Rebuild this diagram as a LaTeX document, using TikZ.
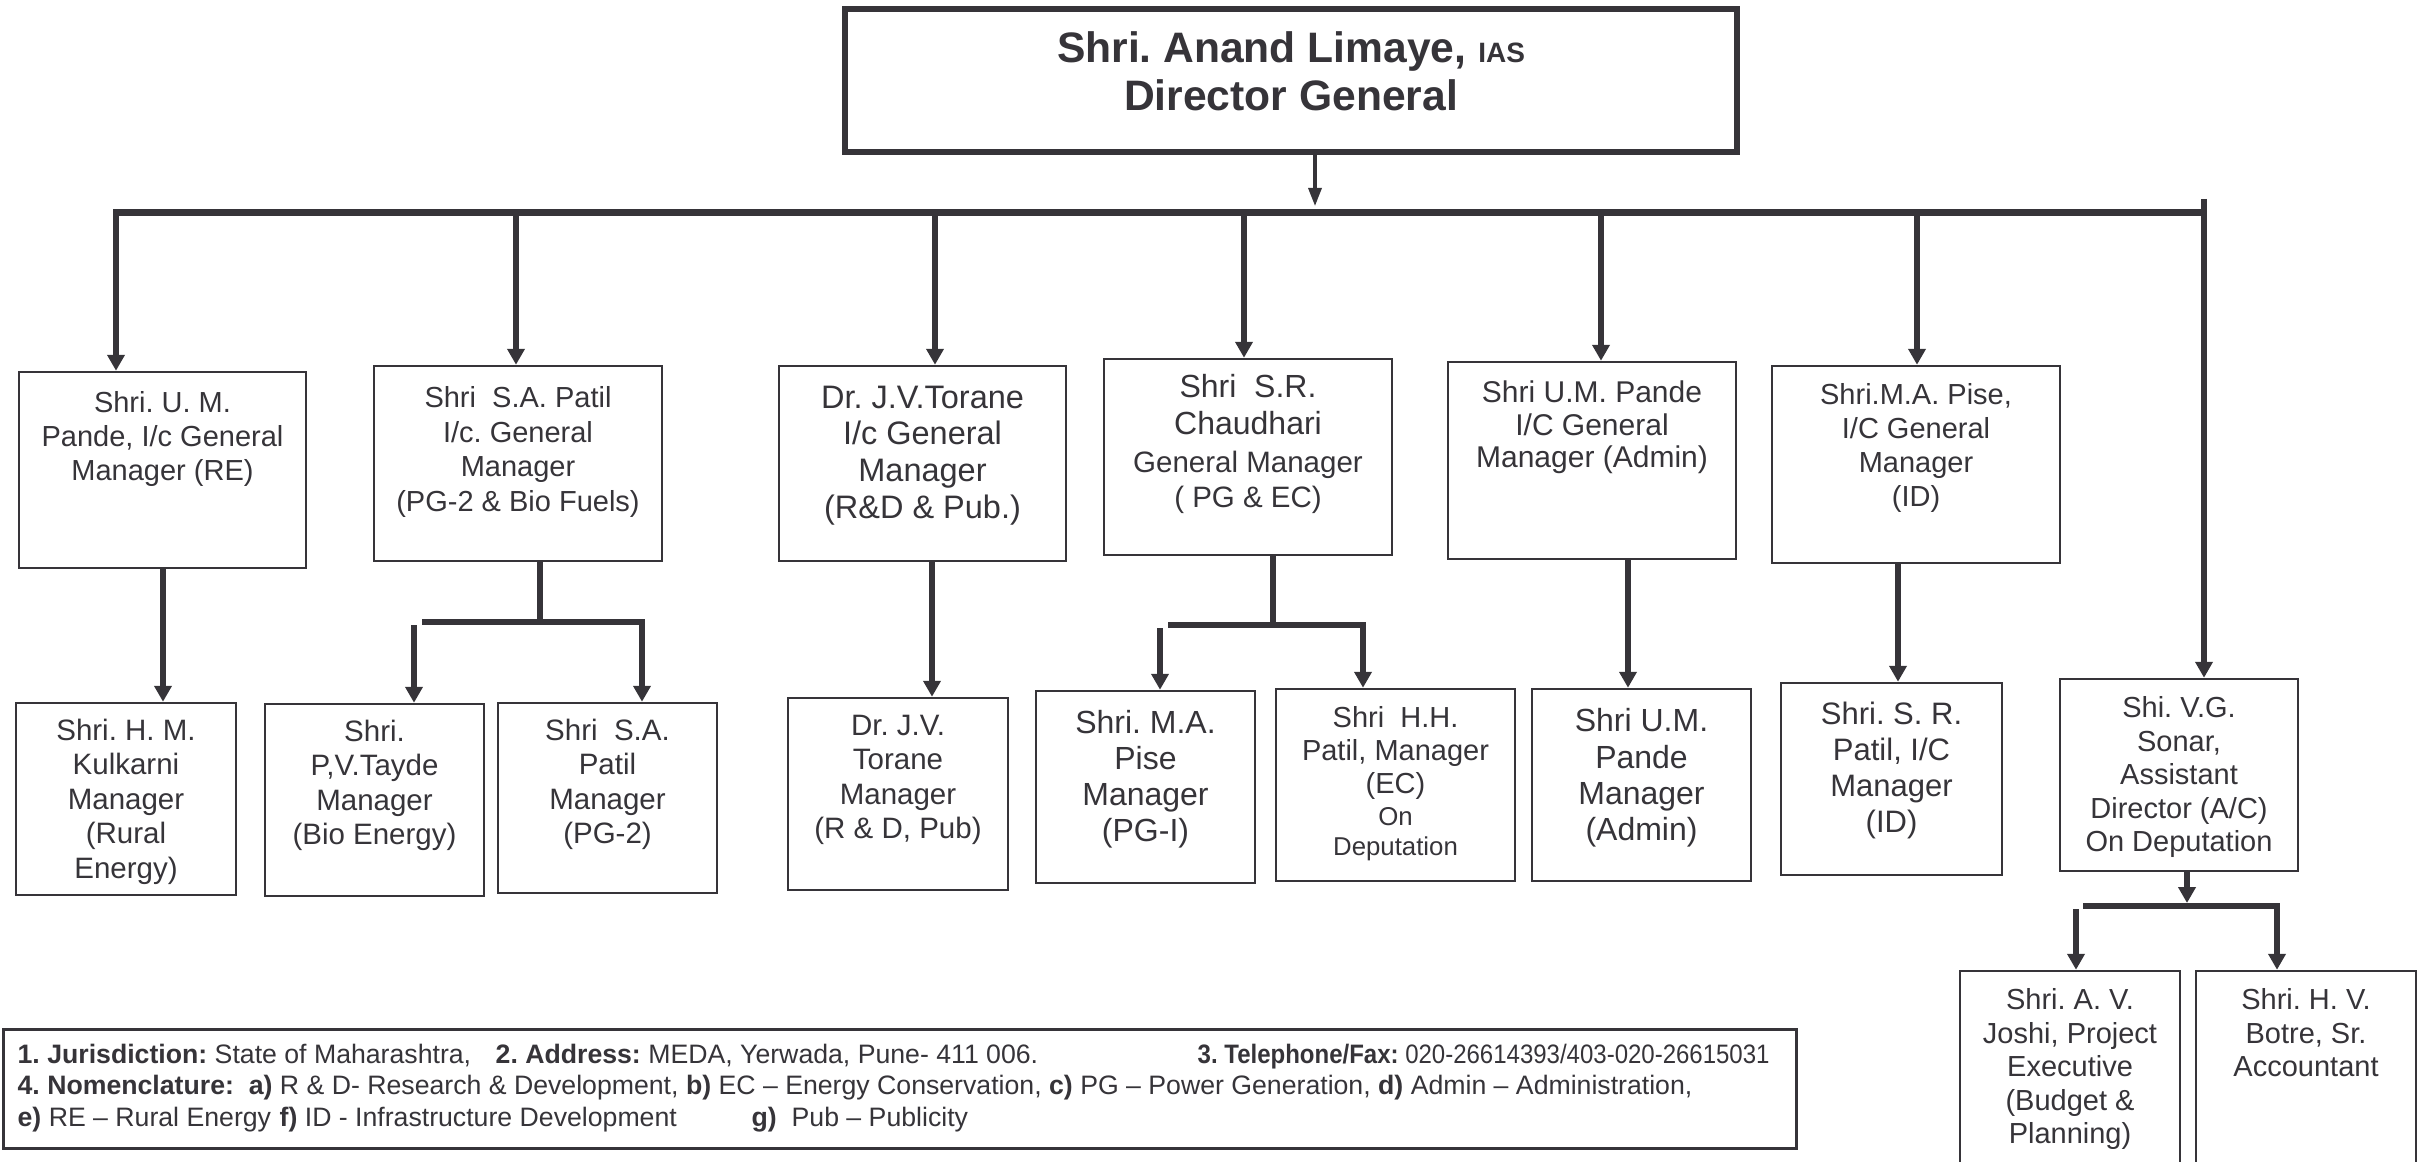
\documentclass[tikz,border=0pt]{standalone}
\usepackage{fontspec}
\setmainfont{Liberation Sans}
\usetikzlibrary{arrows.meta}
\frenchspacing
\definecolor{ink}{RGB}{54,52,57}
\newcommand\fs[2]{\fontsize{#1}{#2}\selectfont}
\newcommand\fl{\rule{0pt}{1em}}
\newcommand\mkbox[6][]{\node[box,#1,minimum width={(#5-#3)*0.3pt},minimum height={(#6-#4)*0.3pt}] (#2) at ({(#3+#5)/2},{(#4+#6)/2}) {};}
\tikzset{
 box/.style={draw=ink, line width=0.75pt, rectangle, inner sep=0pt, fill=white},
 lbl/.style={anchor=north, inner sep=0pt, align=center, text=ink},
 conn/.style={draw=ink, line width=1.8pt},
 bus/.style={draw=ink, line width=2.1pt},
 arr/.style={-{Triangle[length=4.8pt,width=5.1pt]}},
 thinarr/.style={draw=ink, line width=1.0pt, -{Triangle[length=5.4pt,width=3.9pt]}},
 foot/.style={anchor=base west, inner sep=0pt, text=ink, font=\fs{8.0}{9}},
}
\begin{document}
\begin{tikzpicture}[x=0.3pt,y=-0.3pt]
\useasboundingbox (0,0) rectangle (2432,1162);
\clip (0,0) rectangle (2432,1162);
% boxes
\mkbox[line width=1.8pt]{top}{845}{9}{1737}{152}
\mkbox{b1}{19}{372}{306}{568}
\mkbox{b2}{374}{366}{662}{561}
\mkbox{b3}{779}{366}{1066}{561}
\mkbox{b4}{1104}{359}{1392}{555}
\mkbox{b5}{1448}{362}{1736}{559}
\mkbox{b6}{1772}{366}{2060}{563}
\mkbox{k1}{16}{703}{236}{895}
\mkbox{t2}{265}{704}{484}{896}
\mkbox{p2}{498}{703}{717}{893}
\mkbox{r3}{788}{698}{1008}{890}
\mkbox{m4}{1036}{691}{1255}{883}
\mkbox{h4}{1276}{689}{1515}{881}
\mkbox{u5}{1532}{689}{1751}{881}
\mkbox{s6}{1781}{683}{2002}{875}
\mkbox{v7}{2060}{679}{2298}{871}
\mkbox{jo}{1960}{971}{2180}{1180}
\mkbox{bo}{2196}{971}{2416}{1180}
\mkbox[line width=0.9pt]{fn}{3}{1029}{1796}{1148}
% texts
\node[lbl,font=\bfseries\fs{12.78}{14.4}] (ttop) at (1291,19.4) {\fl Shri. Anand Limaye, {\fs{8.4}{8.4}IAS}\\Director General};
\node[lbl,font=\fs{8.7}{10.2}] (tb1) at (162.5,383) {\fl Shri. U. M.\\Pande, I/c General\\Manager (RE)};
\node[lbl,font=\fs{8.7}{10.35}] (tb2) at (518,378) {\fl Shri\ \ S.A. Patil\\I/c. General\\Manager\\(PG-2 \& Bio Fuels)};
\node[lbl,font=\fs{9.75}{11.0}] (tb3) at (922.5,375) {\fl Dr. J.V.Torane\\I/c General\\Manager\\(R\&D \& Pub.)};
\node[lbl,font=\fs{9.6}{11.1}] (tb4a) at (1248,365) {\fl Shri\ \ S.R.\\Chaudhari};
\node[lbl,font=\fs{8.85}{10.7}] (tb4b) at (1248,442) {\fl General Manager\\( PG \& EC)};
\node[lbl,font=\fs{9.0}{9.75}] (tb5) at (1592,372) {\fl Shri U.M. Pande\\I/C General\\Manager (Admin)};
\node[lbl,font=\fs{8.7}{10.2}] (tb6) at (1916,375) {\fl Shri.M.A. Pise,\\I/C General\\Manager\\(ID)};
\node[lbl,font=\fs{8.85}{10.35}] (tk1) at (126,710) {\fl Shri. H. M.\\Kulkarni\\Manager\\(Rural\\Energy)};
\node[lbl,font=\fs{8.85}{10.35}] (tt2) at (374.5,711) {\fl Shri.\\P,V.Tayde\\Manager\\(Bio Energy)};
\node[lbl,font=\fs{8.85}{10.35}] (tp2) at (607.5,710) {\fl Shri\ \ S.A.\\Patil\\Manager\\(PG-2)};
\node[lbl,font=\fs{8.85}{10.35}] (tr3) at (898,705) {\fl Dr. J.V.\\Torane\\Manager\\(R \& D, Pub)};
\node[lbl,font=\fs{9.6}{10.8}] (tm4) at (1145.5,701) {\fl Shri. M.A.\\Pise\\Manager\\(PG-I)};
\node[lbl,font=\fs{8.7}{9.9}] (th4a) at (1395.5,698) {\fl Shri\ \ H.H.\\Patil, Manager\\(EC)};
\node[lbl,font=\fs{7.74}{9.0}] (th4b) at (1395.5,799) {\fl On\\Deputation};
\node[lbl,font=\fs{9.6}{10.9}] (tu5) at (1641.5,699) {\fl Shri U.M.\\Pande\\Manager\\(Admin)};
\node[lbl,font=\fs{9.3}{10.8}] (ts6) at (1891.5,693) {\fl Shri. S. R.\\Patil, I/C\\Manager\\(ID)};
\node[lbl,font=\fs{8.7}{10.05}] (tv7) at (2179,688) {\fl Shi. V.G.\\Sonar,\\Assistant\\Director (A/C)\\On Deputation};
\node[lbl,font=\fs{8.7}{10.05}] (tjo) at (2070,980) {\fl Shri. A. V.\\Joshi, Project\\Executive\\(Budget \&\\Planning)};
\node[lbl,font=\fs{8.7}{10.05}] (tbo) at (2306,980) {\fl Shri. H. V.\\Botre, Sr.\\Accountant};
% footnote
\node[foot] (f1a) at (17,1063) {\textbf{1. Jurisdiction:} State of Maharashtra,};
\node[foot] (f1b) at (495,1063) {\textbf{2. Address:} MEDA, Yerwada, Pune- 411 006.};
\node[foot] (f1c) at (1197,1063) {\scalebox{0.9}[1]{\textbf{3. Telephone/Fax:} 020-26614393/403-020-26615031}};
\node[foot] (f2) at (17,1094) {\textbf{4. Nomenclature:}\ \ \textbf{a)} R \& D- Research \& Development, \textbf{b)} EC -- Energy Conservation, \textbf{c)} PG -- Power Generation, \textbf{d)} Admin -- Administration,};
\node[foot] (f3a) at (17,1126) {\textbf{e)} RE -- Rural Energy};
\node[foot] (f3b) at (279,1126) {\textbf{f)} ID - Infrastructure Development};
\node[foot] (f3c) at (751,1126) {\textbf{g)}\ \ Pub -- Publicity};
% coordinates
\coordinate (d0) at (113,213);
\coordinate (d1) at (116,213);
\coordinate (d2) at (516,213);
\coordinate (d3) at (935,213);
\coordinate (d4) at (1244,213);
\coordinate (d5) at (1601,213);
\coordinate (d6) at (1917,213);
\coordinate (d7) at (2204,213);
\coordinate (dtop) at (2204,199);
\coordinate (tarr) at (1315,206);
\coordinate (c1) at (163,0);
\coordinate (j2) at (540,622);
\coordinate (j2L) at (422,622);
\coordinate (j2R) at (642,622);
\coordinate (j2l) at (414,625);
\coordinate (c3) at (932,0);
\coordinate (j4) at (1273,625);
\coordinate (j4L) at (1168,625);
\coordinate (j4R) at (1363,625);
\coordinate (j4l) at (1160,628);
\coordinate (c5) at (1628,0);
\coordinate (c6) at (1898,0);
\coordinate (j7) at (2187,903);
\coordinate (j7L) at (2083,906);
\coordinate (j7R) at (2277,906);
\coordinate (j7l) at (2076,909);
% connectors
\draw[thinarr] (top.south -| tarr) -- (tarr);
\draw[bus] (d0) -- (d7);
\draw[conn,arr] (dtop) -- (v7.north -| dtop);
\draw[conn,arr] (d1) -- (b1.north -| d1);
\draw[conn,arr] (d2) -- (b2.north -| d2);
\draw[conn,arr] (d3) -- (b3.north -| d3);
\draw[conn,arr] (d4) -- (b4.north -| d4);
\draw[conn,arr] (d5) -- (b5.north -| d5);
\draw[conn,arr] (d6) -- (b6.north -| d6);
\draw[conn,arr] (b1.south -| c1) -- (k1.north -| c1);
\draw[conn] (b2.south -| j2) -- (j2);
\draw[conn,arr] (j2L) -- (j2R) -- (p2.north -| j2R);
\draw[conn,arr] (j2l) -- (t2.north -| j2l);
\draw[conn,arr] (b3.south -| c3) -- (r3.north -| c3);
\draw[conn] (b4.south -| j4) -- (j4);
\draw[conn,arr] (j4L) -- (j4R) -- (h4.north -| j4R);
\draw[conn,arr] (j4l) -- (m4.north -| j4l);
\draw[conn,arr] (b5.south -| c5) -- (u5.north -| c5);
\draw[conn,arr] (b6.south -| c6) -- (s6.north -| c6);
\draw[conn,arr] (v7.south -| j7) -- (j7);
\draw[conn,arr] (j7L) -- (j7R) -- (bo.north -| j7R);
\draw[conn,arr] (j7l) -- (jo.north -| j7l);
\end{tikzpicture}
\end{document}
